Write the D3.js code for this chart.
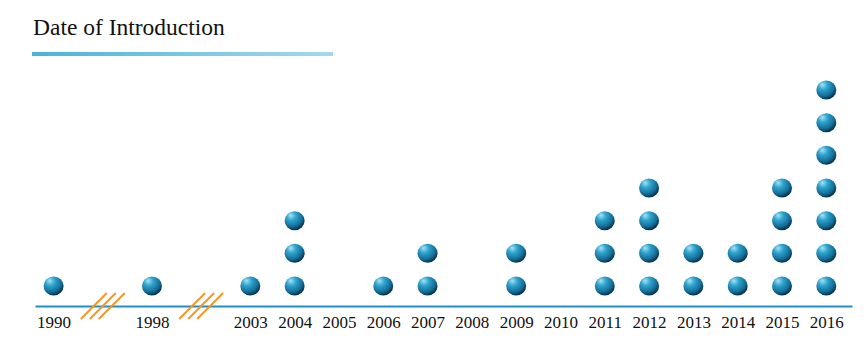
<!DOCTYPE html>
<html>
<head>
<meta charset="utf-8">
<script src="https://cdnjs.cloudflare.com/ajax/libs/d3/7.8.5/d3.min.js"></script>
<style>
  body { margin: 0; background: #fff; }
  svg { display: block; }
</style>
</head>
<body>
<div id="chart"></div>
<script>
// data: years on the timeline and how many items were introduced in each
const years = ["1990", "1998", "2003", "2004", "2005", "2006", "2007", "2008",
               "2009", "2010", "2011", "2012", "2013", "2014", "2015", "2016"];
const counts = [1, 1, 1, 3, 0, 1, 2, 0, 2, 0, 3, 4, 2, 2, 4, 7];
// the axis is broken after these years
const breaksAfter = ["1990", "1998"];

const width = 868, height = 352;
const gapSlots = 2.22; // width of a broken section, in year slots

/* slot index of each year: one per year, wider across the breaks */
const slots = [];
let s = 0;
years.forEach((y, i) => {
    if (i > 0) s += breaksAfter.includes(years[i - 1]) ? gapSlots : 1;
    slots.push(s);
});

const svg = d3.select("#chart")
    .append("svg")
    .attr("width", width)
    .attr("height", height);

/* gradients */
const defs = svg.append("defs");
const ball = defs.append("radialGradient")
    .attr("id", "ball")
    .attr("cx", "38%").attr("cy", "30%").attr("r", "70%")
    .attr("fx", "30%").attr("fy", "22%");
ball.append("stop").attr("offset", "0%").attr("stop-color", "#a6e3f3");
ball.append("stop").attr("offset", "35%").attr("stop-color", "#2ea3ce");
ball.append("stop").attr("offset", "75%").attr("stop-color", "#146f99");
ball.append("stop").attr("offset", "100%").attr("stop-color", "#08304a");

const bar = defs.append("linearGradient").attr("id", "bar");
bar.append("stop").attr("offset", "0%").attr("stop-color", "#4db3d9");
bar.append("stop").attr("offset", "100%").attr("stop-color", "#a3d9ec");

/* title */
svg.append("text")
    .attr("x", 33)
    .attr("y", 35)
    .style("font-family", "'Liberation Serif', 'Times New Roman', serif")
    .style("font-size", "23.5px")
    .style("fill", "#111")
    .text("Date of Introduction");

svg.append("rect")
    .attr("x", 32).attr("y", 52)
    .attr("width", 301).attr("height", 4)
    .attr("fill", "url(#bar)");

/* scales */
const x = d3.scaleLinear()
    .domain([-0.42, 18.02])
    .range([35, 852]);
const y = d3.scaleLinear()
    .domain([0, 6])
    .range([286, 90]);

const baseY = 306;

/* axis */
const xAxis = d3.axisBottom(x)
    .tickValues(slots)
    .tickFormat((d, i) => years[i])
    .tickSize(0)
    .tickPadding(10);

const gx = svg.append("g")
    .attr("transform", `translate(0,${baseY})`)
    .call(xAxis);
gx.select(".domain")
    .attr("stroke", "#1f8fc6")
    .attr("stroke-width", 2);
gx.selectAll("text")
    .style("font-family", "'Liberation Serif', 'Times New Roman', serif")
    .style("font-size", "17px")
    .style("fill", "#111");

/* axis break marks */
const breakSlots = breaksAfter.map(b => {
    const i = years.indexOf(b);
    return (slots[i] + slots[i + 1]) / 2;
});
const marks = svg.append("g").attr("class", "breaks");
breakSlots.forEach(bs => {
    [-9, 0, 9].forEach(off => {
        marks.append("line")
            .attr("x1", x(bs) + off - 13).attr("y1", baseY + 13)
            .attr("x2", x(bs) + off + 13).attr("y2", baseY - 13)
            .attr("stroke", "#f7941d")
            .attr("stroke-width", 1.8);
    });
});

/* dots */
const dots = [];
years.forEach((yr, i) => {
    for (let k = 0; k < counts[i]; k++) dots.push({ year: yr, slot: slots[i], k: k });
});

svg.append("g")
    .attr("class", "dots")
    .selectAll("ellipse")
    .data(dots)
    .join("ellipse")
    .attr("cx", d => x(d.slot))
    .attr("cy", d => y(d.k))
    .attr("rx", 10)
    .attr("ry", 9.5)
    .attr("fill", "url(#ball)");
</script>
</body>
</html>
